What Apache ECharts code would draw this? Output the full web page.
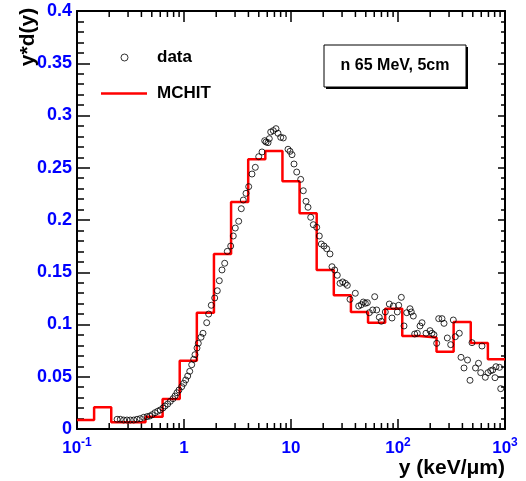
<!DOCTYPE html>
<html>
<head>
<meta charset="utf-8">
<script src="https://cdn.jsdelivr.net/npm/echarts@6/dist/echarts.min.js"></script>
<style>
  html, body { margin: 0; padding: 0; background: #fff; }
  #chart { width: 526px; height: 481px; }
</style>
</head>
<body>
<div id="chart"></div>
<script>
// Lineal-energy spectrum y*d(y): measured points and MCHIT histogram (n 65 MeV, 5 cm)

// Measured spectrum: lineal energy y (keV/um) and y*d(y)
const dataY_keV = [
  0.237, 0.254, 0.273, 0.293, 0.315, 0.339, 0.364, 0.390, 0.420, 0.451, 0.478, 0.505,
  0.536, 0.568, 0.600, 0.636, 0.665, 0.704, 0.745, 0.789, 0.824, 0.860, 0.898, 0.952,
  0.994, 1.037, 1.083, 1.131, 1.180, 1.232, 1.267, 1.323, 1.360, 1.442, 1.505,
  1.630, 1.701, 1.799, 1.936, 2.048, 2.138, 2.265, 2.401, 2.539, 2.732, 2.888, 3.015,
  3.245, 3.431, 3.583, 3.797, 4.024, 4.320, 4.638, 4.991, 5.358, 5.678,
  5.84, 6.10, 6.27, 6.46, 6.83, 7.24, 7.56, 8.01, 8.47,
  9.38, 9.79, 10.22, 10.67, 11.31, 12.32, 13.03, 13.81, 14.42, 15.28, 16.16, 17.39,
  18.39, 19.20, 20.35, 21.56, 23.14, 24.16, 25.61, 27.08, 28.71, 30.42, 32.17, 33.59, 35.60,
  39.90, 42.93, 45.40, 47.40, 49.49, 51.67, 53.95, 58.02, 60.56, 63.22, 66.86, 69.80,
  76.09, 82.92, 87.86, 90.36, 98.51, 101.5, 107.4, 113.8, 120.6, 129.5, 133.1, 139.0,
  143.2, 151.5, 160.6, 167.6,
  182.7, 199.1, 207.8, 216.9, 229.9, 240.1, 257.8, 269.2, 288.9, 310.8, 328.7, 343.2,
  374.0, 388.0, 413.9, 446.3, 471.0, 491.7, 530.2, 565.4, 592.9, 609.5, 654.5, 693.6,
  735.1, 767.4, 823.9, 806.3, 888.5, 911.7
];
const dataYdY = [
  0.0093, 0.0093, 0.0086, 0.0086, 0.0086, 0.0086, 0.0093, 0.0099, 0.0112, 0.0118, 0.0124, 0.0137,
  0.0156, 0.0170, 0.0182, 0.0201, 0.0220, 0.0239, 0.0265, 0.0290, 0.0316, 0.0347, 0.0373, 0.0405,
  0.0437, 0.0469, 0.0507, 0.0552, 0.0615, 0.0667, 0.0711, 0.0775, 0.0820, 0.0878, 0.0916,
  0.1017, 0.1100, 0.1184, 0.1254, 0.1323, 0.1419, 0.1522, 0.1586, 0.1700, 0.1751, 0.1847, 0.1923,
  0.1988, 0.2108, 0.2191, 0.2255, 0.2319, 0.2440, 0.2504, 0.2606, 0.2651, 0.2759,
  0.2746, 0.2740, 0.2778, 0.2842, 0.2855, 0.2874, 0.2830, 0.2791, 0.2785,
  0.2677, 0.2657, 0.2625, 0.2536, 0.2459, 0.2389, 0.2280, 0.2179, 0.2122, 0.2026, 0.1955, 0.1930,
  0.1847, 0.1770, 0.1751, 0.1725, 0.1675, 0.1553, 0.1522, 0.1471, 0.1394, 0.1407, 0.1394, 0.1375, 0.1241,
  0.1299, 0.1177, 0.1189, 0.1215, 0.1203, 0.1209, 0.1113, 0.1139, 0.1266, 0.1139, 0.1069, 0.1031,
  0.1120, 0.1196, 0.1062, 0.1177, 0.1120, 0.1184, 0.1260, 0.0986, 0.1113, 0.1151, 0.1120, 0.1081,
  0.0909, 0.0916, 0.0986, 0.1017,
  0.0916, 0.0941, 0.0916, 0.0902, 0.0820, 0.1056, 0.1056, 0.1011, 0.0871, 0.0807, 0.1043, 0.0883,
  0.0916, 0.0686, 0.0584, 0.0660, 0.0466, 0.0826, 0.0584, 0.0629, 0.0539, 0.0794, 0.0495, 0.0539,
  0.0558, 0.0565, 0.0596, 0.0491, 0.0590, 0.0386
];

// MCHIT histogram: bin edges (log-spaced, keV/um) and bin contents
const mchitEdges = [
  0.1, 0.1445, 0.2089, 0.3020, 0.4365, 0.6310, 0.9120, 1.318, 1.905, 2.754, 3.981, 5.754,
  8.318, 12.02, 17.38, 25.12, 36.31, 52.48, 75.86, 109.6, 158.5, 229.1, 331.1, 478.6, 691.8, 1000
];
const mchitValues = [
  0.0086, 0.0208, 0.0065, 0.0065, 0.0118, 0.0287, 0.0654, 0.1113, 0.1675, 0.2172, 0.2581, 0.2660,
  0.2370, 0.2064, 0.1522, 0.1280, 0.1120, 0.1017, 0.1151, 0.0890, 0.0875, 0.0740, 0.1025, 0.0822, 0.0667
];

// Axis ranges and tick labels
const xRange = [0.1, 1000];
const yRange = [0, 0.4];
const yStep = 0.05;
const xDecadeLabels = {
  '-1': '{b|10}{sup|-1}', '0': '{b|1}', '1': '{b|10}', '2': '{b|10}{sup|2}', '3': '{b|10}{sup|3}'
};
const minorMultipliers = [2, 3, 4, 5, 6, 7, 8, 9];
const minorDecades = [0.1, 1, 10, 100];

const FONT = '"Liberation Sans", Arial, Helvetica, sans-serif';
const BLUE = '#0000ff';

const scatterData = dataY_keV.map((x, i) => [x, dataYdY[i]]);
const histData = mchitValues.map((v, i) => [mchitEdges[i], v]);
histData.push([mchitEdges[mchitEdges.length - 1], mchitValues[mchitValues.length - 1]]);

const minorTickData = [];
minorDecades.forEach(d => minorMultipliers.forEach(m => minorTickData.push([d * m, 0])));

const chart = echarts.init(document.getElementById('chart'), null, { renderer: 'canvas' });

const frameLine = { show: true, onZero: false, lineStyle: { color: '#000', width: 2 } };
const legendText = { fontFamily: FONT, fontWeight: 'bold', fontSize: 17, color: '#000' };

chart.setOption({
  animation: false,
  backgroundColor: '#fff',
  grid: { left: 77, right: 21, top: 11, bottom: 52, containLabel: false },
  xAxis: [
    {
      type: 'log', logBase: 10, min: xRange[0], max: xRange[1], position: 'bottom',
      axisLine: frameLine,
      axisTick: { show: true, inside: true, length: 10, lineStyle: { color: '#000', width: 1.5 } },
      splitLine: { show: false },
      axisLabel: {
        show: true, margin: 8, color: BLUE, fontFamily: FONT, fontWeight: 'bold', fontSize: 17,
        formatter: v => xDecadeLabels[String(Math.round(Math.log10(v)))] || '',
        rich: {
          b: { fontSize: 17, fontWeight: 'bold', fontFamily: FONT, color: BLUE, lineHeight: 22 },
          sup: { fontSize: 12, fontWeight: 'bold', fontFamily: FONT, color: BLUE, lineHeight: 10, verticalAlign: 'top' }
        }
      }
    },
    {
      type: 'log', logBase: 10, min: xRange[0], max: xRange[1], position: 'top',
      axisLine: frameLine,
      axisTick: { show: true, inside: true, length: 11, lineStyle: { color: '#000', width: 1.5 } },
      splitLine: { show: false },
      axisLabel: { show: false }
    }
  ],
  yAxis: [
    {
      type: 'value', min: yRange[0], max: yRange[1], interval: yStep, position: 'left',
      axisLine: frameLine,
      axisTick: { show: true, inside: true, length: 13, lineStyle: { color: '#000', width: 1.5 } },
      minorTick: { show: true, splitNumber: 5, length: 7, lineStyle: { color: '#000', width: 1.5 } },
      splitLine: { show: false },
      axisLabel: {
        show: true, margin: 5, color: BLUE, fontFamily: FONT, fontWeight: 'bold', fontSize: 18,
        formatter: v => (v === 0 ? '0' : String(+v.toFixed(2)))
      }
    },
    {
      type: 'value', min: yRange[0], max: yRange[1], interval: yStep, position: 'right',
      axisLine: frameLine,
      axisTick: { show: true, inside: true, length: 7, lineStyle: { color: '#000', width: 1.5 } },
      minorTick: { show: true, splitNumber: 5, length: 4, lineStyle: { color: '#000', width: 1.5 } },
      splitLine: { show: false },
      axisLabel: { show: false }
    }
  ],
  legend: [
    {
      left: 115.5, top: 44, orient: 'vertical', selectedMode: false,
      itemWidth: 7, itemHeight: 7, symbolKeepAspect: true,
      data: [{ name: 'data', icon: 'circle', itemStyle: { color: '#fff', borderColor: '#000', borderWidth: 1 } }],
      textStyle: Object.assign({ padding: [0, 0, 0, 24] }, legendText)
    },
    {
      left: 96, top: 80, orient: 'vertical', selectedMode: false,
      itemWidth: 46, itemHeight: 2.5, symbolKeepAspect: false,
      data: [{ name: 'MCHIT', icon: 'rect' }],
      textStyle: Object.assign({ padding: [0, 0, 0, 5] }, legendText)
    }
  ],
  graphic: [
    // caption box with drop shadow
    { type: 'rect', z: 100, shape: { x: 326, y: 47, width: 142, height: 42 }, style: { fill: '#000' } },
    { type: 'rect', z: 101, shape: { x: 324, y: 45, width: 142, height: 42 }, style: { fill: '#fff', stroke: '#000', lineWidth: 1 } },
    { type: 'text', z: 102, x: 395, y: 66,
      style: { text: 'n 65 MeV, 5cm', align: 'center', verticalAlign: 'middle', fontFamily: FONT, fontWeight: 'bold', fontSize: 16, fill: '#000' } },
    // axis titles
    { type: 'text', z: 102, x: 505, y: 468,
      style: { text: 'y (keV/\u03bcm)', align: 'right', verticalAlign: 'middle', fontFamily: FONT, fontWeight: 'bold', fontSize: 21, fill: '#000' } },
    { type: 'text', z: 102, x: 28, y: 37, rotation: Math.PI / 2,
      style: { text: 'y*d(y)', align: 'center', verticalAlign: 'middle', fontFamily: FONT, fontWeight: 'bold', fontSize: 21, fill: '#000' } }
  ],
  series: [
    {
      name: 'minor ticks', type: 'custom', xAxisIndex: 0, yAxisIndex: 0, silent: true, z: 1,
      data: minorTickData,
      renderItem: (params, api) => {
        const v = api.value(0);
        const b = api.coord([v, yRange[0]]);
        const t = api.coord([v, yRange[1]]);
        const st = { stroke: '#000', lineWidth: 1.5 };
        return {
          type: 'group',
          children: [
            { type: 'line', shape: { x1: b[0], y1: b[1], x2: b[0], y2: b[1] - 6 }, style: st },
            { type: 'line', shape: { x1: t[0], y1: t[1], x2: t[0], y2: t[1] + 6 }, style: st }
          ]
        };
      }
    },
    {
      name: 'MCHIT', type: 'line', xAxisIndex: 0, yAxisIndex: 0, step: 'end', z: 3,
      data: histData, showSymbol: false, symbol: 'none',
      color: '#ff0000',
      lineStyle: { color: '#ff0000', width: 2.5 }
    },
    {
      name: 'data', type: 'scatter', xAxisIndex: 0, yAxisIndex: 0, z: 4,
      data: scatterData,
      symbol: 'circle', symbolSize: 6,
      itemStyle: { color: 'rgba(255,255,255,0)', borderColor: '#000', borderWidth: 1 }
    }
  ]
});
</script>
</body>
</html>
